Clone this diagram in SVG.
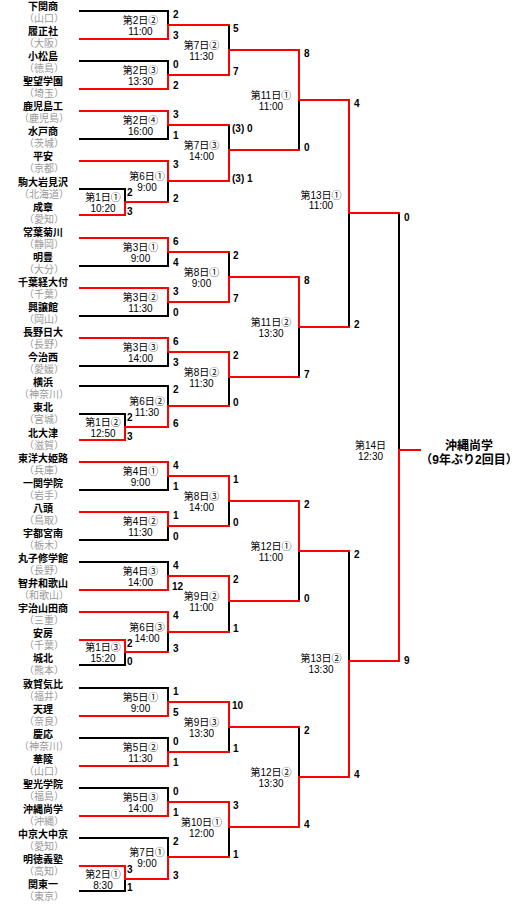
<svg xmlns="http://www.w3.org/2000/svg" width="520" height="905" viewBox="0 0 520 905">
<style>
text{font-family:"Liberation Sans","Noto Sans CJK JP",sans-serif;font-size:10px}
.tn{font-weight:bold;text-anchor:middle;fill:#000}
.pf{text-anchor:middle;fill:#999}
.lb{text-anchor:middle;fill:#000}
.sc{font-weight:bold;fill:#000}
.ch{font-weight:bold;font-size:12px;text-anchor:middle;fill:#000}
.k{stroke:#000;stroke-width:2;fill:none;stroke-linecap:square}
.r{stroke:#f00;stroke-width:2;fill:none;stroke-linecap:square}
</style>
<rect width="520" height="905" fill="#fff"/>
<g id="teams">
<g id="t0"><text class="tn" x="43" y="9.8">下関商</text><text class="pf" x="44" y="21.8">（山口）</text></g>
<g id="t1"><text class="tn" x="43" y="34.9">履正社</text><text class="pf" x="44" y="46.9">（大阪）</text></g>
<g id="t2"><text class="tn" x="43" y="60">小松島</text><text class="pf" x="44" y="72">（徳島）</text></g>
<g id="t3"><text class="tn" x="43" y="85.1">聖望学園</text><text class="pf" x="44" y="97.1">（埼玉）</text></g>
<g id="t4"><text class="tn" x="43" y="110.2">鹿児島工</text><text class="pf" x="44" y="122.2">（鹿児島）</text></g>
<g id="t5"><text class="tn" x="43" y="135.3">水戸商</text><text class="pf" x="44" y="147.3">（茨城）</text></g>
<g id="t6"><text class="tn" x="43" y="160.4">平安</text><text class="pf" x="44" y="172.4">（京都）</text></g>
<g id="t7"><text class="tn" x="43" y="185.5">駒大岩見沢</text><text class="pf" x="44" y="197.5">（北海道）</text></g>
<g id="t8"><text class="tn" x="43" y="210.6">成章</text><text class="pf" x="44" y="222.6">（愛知）</text></g>
<g id="t9"><text class="tn" x="43" y="235.7">常葉菊川</text><text class="pf" x="44" y="247.7">（静岡）</text></g>
<g id="t10"><text class="tn" x="43" y="260.8">明豊</text><text class="pf" x="44" y="272.8">（大分）</text></g>
<g id="t11"><text class="tn" x="43" y="285.9">千葉経大付</text><text class="pf" x="44" y="297.9">（千葉）</text></g>
<g id="t12"><text class="tn" x="43" y="311">興譲館</text><text class="pf" x="44" y="323">（岡山）</text></g>
<g id="t13"><text class="tn" x="43" y="336.1">長野日大</text><text class="pf" x="44" y="348.1">（長野）</text></g>
<g id="t14"><text class="tn" x="43" y="361.2">今治西</text><text class="pf" x="44" y="373.2">（愛媛）</text></g>
<g id="t15"><text class="tn" x="43" y="386.3">横浜</text><text class="pf" x="44" y="398.3">（神奈川）</text></g>
<g id="t16"><text class="tn" x="43" y="411.4">東北</text><text class="pf" x="44" y="423.4">（宮城）</text></g>
<g id="t17"><text class="tn" x="43" y="436.5">北大津</text><text class="pf" x="44" y="448.5">（滋賀）</text></g>
<g id="t18"><text class="tn" x="43" y="461.6">東洋大姫路</text><text class="pf" x="44" y="473.6">（兵庫）</text></g>
<g id="t19"><text class="tn" x="43" y="486.7">一関学院</text><text class="pf" x="44" y="498.7">（岩手）</text></g>
<g id="t20"><text class="tn" x="43" y="511.8">八頭</text><text class="pf" x="44" y="523.8">（鳥取）</text></g>
<g id="t21"><text class="tn" x="43" y="536.9">宇都宮南</text><text class="pf" x="44" y="548.9">（栃木）</text></g>
<g id="t22"><text class="tn" x="43" y="562">丸子修学館</text><text class="pf" x="44" y="574">（長野）</text></g>
<g id="t23"><text class="tn" x="43" y="587.1">智弁和歌山</text><text class="pf" x="44" y="599.1">（和歌山）</text></g>
<g id="t24"><text class="tn" x="43" y="612.2">宇治山田商</text><text class="pf" x="44" y="624.2">（三重）</text></g>
<g id="t25"><text class="tn" x="43" y="637.3">安房</text><text class="pf" x="44" y="649.3">（千葉）</text></g>
<g id="t26"><text class="tn" x="43" y="662.4">城北</text><text class="pf" x="44" y="674.4">（熊本）</text></g>
<g id="t27"><text class="tn" x="43" y="687.5">敦賀気比</text><text class="pf" x="44" y="699.5">（福井）</text></g>
<g id="t28"><text class="tn" x="43" y="712.6">天理</text><text class="pf" x="44" y="724.6">（奈良）</text></g>
<g id="t29"><text class="tn" x="43" y="737.7">慶応</text><text class="pf" x="44" y="749.7">（神奈川）</text></g>
<g id="t30"><text class="tn" x="43" y="762.8">華陵</text><text class="pf" x="44" y="774.8">（山口）</text></g>
<g id="t31"><text class="tn" x="43" y="787.9">聖光学院</text><text class="pf" x="44" y="799.9">（福島）</text></g>
<g id="t32"><text class="tn" x="43" y="813">沖縄尚学</text><text class="pf" x="44" y="825">（沖縄）</text></g>
<g id="t33"><text class="tn" x="43" y="838.1">中京大中京</text><text class="pf" x="44" y="850.1">（愛知）</text></g>
<g id="t34"><text class="tn" x="43" y="863.2">明徳義塾</text><text class="pf" x="44" y="875.2">（高知）</text></g>
<g id="t35"><text class="tn" x="43" y="888.3">関東一</text><text class="pf" x="44" y="900.3">（東京）</text></g>
</g>
<g id="connectors">
<path class="k" d="M80,11H168 M80,61H168 M80,139H168 M80,189H125 M80,266H168 M80,316H168 M80,366H168 M80,386H168 M80,414H125 M80,490H168 M80,540H168 M80,562H168 M80,665H125 M80,688H168 M80,738H168 M80,788H168 M80,838H168 M80,891H125"/>
<path class="k" d="M125,189V202 M125,414V427 M125,665V652 M125,891V879 M168,11V25 M168,61V75 M168,139V125 M168,202V181 M168,266V252 M168,316V302 M168,366V352 M168,386V406 M168,490V476 M168,540V526 M168,562V576 M168,652V632 M168,688V702 M168,738V752 M168,788V802 M168,838V857 M229,25V50 M229,125V150 M229,252V277 M229,406V377 M229,526V501 M229,632V601 M229,752V727 M229,857V827 M299,150V100 M299,377V327 M299,601V551 M299,727V777 M349,327V213 M349,551V661 M399,213V450"/>
<path class="r" d="M80,39H168 M80,89H168 M80,111H168 M80,161H168 M80,215H125 M80,238H168 M80,288H168 M80,338H168 M80,440H125 M80,462H168 M80,512H168 M80,590H168 M80,612H168 M80,640H125 M80,716H168 M80,766H168 M80,816H168 M80,866H125"/>
<path class="r" d="M125,215V202H168 M125,440V427H168 M125,640V652H168 M125,866V879H168"/>
<path class="r" d="M168,39V25H229 M168,89V75H229 M168,111V125H229 M168,161V181H229 M168,238V252H229 M168,288V302H229 M168,338V352H229 M168,427V406H229 M168,462V476H229 M168,512V526H229 M168,590V576H229 M168,612V632H229 M168,716V702H229 M168,766V752H229 M168,816V802H229 M168,879V857H229"/>
<path class="r" d="M229,75V50H299 M229,181V150H299 M229,302V277H299 M229,352V377H299 M229,476V501H299 M229,576V601H299 M229,702V727H299 M229,802V827H299"/>
<path class="r" d="M299,50V100H349 M299,277V327H349 M299,501V551H349 M299,827V777H349"/>
<path class="r" d="M349,100V213H399 M349,777V661H399 M399,661V450H420"/>
</g>
<g id="matches">
<g id="m-1-1"><text class="lb" x="103" y="201">第1日①</text><text class="lb" x="103" y="212">10:20</text><text class="sc" x="127" y="196">2</text><text class="sc" x="127" y="215">3</text></g>
<g id="m-1-2"><text class="lb" x="103" y="426">第1日②</text><text class="lb" x="103" y="437">12:50</text><text class="sc" x="127" y="421">2</text><text class="sc" x="127" y="440">3</text></g>
<g id="m-1-3"><text class="lb" x="103" y="651">第1日③</text><text class="lb" x="103" y="662">15:20</text><text class="sc" x="127" y="647">2</text><text class="sc" x="127" y="665">0</text></g>
<g id="m-2-1"><text class="lb" x="103" y="878">第2日①</text><text class="lb" x="103" y="889">8:30</text><text class="sc" x="127" y="873">3</text><text class="sc" x="127" y="891">1</text></g>
<g id="m-2-2"><text class="lb" x="140.5" y="24">第2日②</text><text class="lb" x="140.5" y="35">11:00</text><text class="sc" x="173" y="18">2</text><text class="sc" x="173" y="38.5">3</text></g>
<g id="m-2-3"><text class="lb" x="140.5" y="74">第2日③</text><text class="lb" x="140.5" y="85">13:30</text><text class="sc" x="173" y="68">0</text><text class="sc" x="173" y="88.5">2</text></g>
<g id="m-2-4"><text class="lb" x="140.5" y="124">第2日④</text><text class="lb" x="140.5" y="135">16:00</text><text class="sc" x="173" y="118">3</text><text class="sc" x="173" y="138.5">1</text></g>
<g id="m-6-1"><text class="lb" x="147" y="180">第6日①</text><text class="lb" x="147" y="191">9:00</text><text class="sc" x="173" y="168">3</text><text class="sc" x="173" y="201.5">2</text></g>
<g id="m-3-1"><text class="lb" x="140.5" y="251">第3日①</text><text class="lb" x="140.5" y="262">9:00</text><text class="sc" x="173" y="245">6</text><text class="sc" x="173" y="265.5">4</text></g>
<g id="m-3-2"><text class="lb" x="140.5" y="301">第3日②</text><text class="lb" x="140.5" y="312">11:30</text><text class="sc" x="173" y="295">3</text><text class="sc" x="173" y="315.5">0</text></g>
<g id="m-3-3"><text class="lb" x="140.5" y="351">第3日③</text><text class="lb" x="140.5" y="362">14:00</text><text class="sc" x="173" y="345">6</text><text class="sc" x="173" y="365.5">3</text></g>
<g id="m-6-2"><text class="lb" x="147" y="405">第6日②</text><text class="lb" x="147" y="416">11:30</text><text class="sc" x="173" y="393">2</text><text class="sc" x="173" y="426.5">6</text></g>
<g id="m-4-1"><text class="lb" x="140.5" y="475">第4日①</text><text class="lb" x="140.5" y="486">9:00</text><text class="sc" x="173" y="469">4</text><text class="sc" x="173" y="489.5">1</text></g>
<g id="m-4-2"><text class="lb" x="140.5" y="525">第4日②</text><text class="lb" x="140.5" y="536">11:30</text><text class="sc" x="173" y="519">1</text><text class="sc" x="173" y="539.5">0</text></g>
<g id="m-4-3"><text class="lb" x="140.5" y="575">第4日③</text><text class="lb" x="140.5" y="586">14:00</text><text class="sc" x="173" y="569">4</text><text class="sc" x="172" y="589.5">12</text></g>
<g id="m-6-3"><text class="lb" x="147" y="631">第6日③</text><text class="lb" x="147" y="642">14:00</text><text class="sc" x="173" y="619">4</text><text class="sc" x="173" y="651.5">3</text></g>
<g id="m-5-1"><text class="lb" x="140.5" y="701">第5日①</text><text class="lb" x="140.5" y="712">9:00</text><text class="sc" x="173" y="695">1</text><text class="sc" x="173" y="715.5">5</text></g>
<g id="m-5-2"><text class="lb" x="140.5" y="751">第5日②</text><text class="lb" x="140.5" y="762">11:30</text><text class="sc" x="173" y="745">0</text><text class="sc" x="173" y="765.5">1</text></g>
<g id="m-5-3"><text class="lb" x="140.5" y="801">第5日③</text><text class="lb" x="140.5" y="812">14:00</text><text class="sc" x="173" y="795">0</text><text class="sc" x="173" y="815.5">1</text></g>
<g id="m-7-1"><text class="lb" x="147" y="856">第7日①</text><text class="lb" x="147" y="867">9:00</text><text class="sc" x="173" y="845">2</text><text class="sc" x="173" y="878.5">3</text></g>
<g id="m-7-2"><text class="lb" x="201.5" y="49">第7日②</text><text class="lb" x="201.5" y="60">11:30</text><text class="sc" x="233" y="32">5</text><text class="sc" x="233" y="75">7</text></g>
<g id="m-7-3"><text class="lb" x="201.5" y="149">第7日③</text><text class="lb" x="201.5" y="160">14:00</text><text class="sc" x="232" y="132">(3) 0</text><text class="sc" x="232" y="181.5">(3) 1</text></g>
<g id="m-8-1"><text class="lb" x="201.5" y="276">第8日①</text><text class="lb" x="201.5" y="287">9:00</text><text class="sc" x="233" y="259">2</text><text class="sc" x="233" y="302">7</text></g>
<g id="m-8-2"><text class="lb" x="201.5" y="376">第8日②</text><text class="lb" x="201.5" y="387">11:30</text><text class="sc" x="233" y="359">2</text><text class="sc" x="233" y="406">0</text></g>
<g id="m-8-3"><text class="lb" x="201.5" y="500">第8日③</text><text class="lb" x="201.5" y="511">14:00</text><text class="sc" x="233" y="483">1</text><text class="sc" x="233" y="526">0</text></g>
<g id="m-9-2"><text class="lb" x="201.5" y="600">第9日②</text><text class="lb" x="201.5" y="611">11:00</text><text class="sc" x="233" y="583">2</text><text class="sc" x="233" y="632">1</text></g>
<g id="m-9-3"><text class="lb" x="201.5" y="726">第9日③</text><text class="lb" x="201.5" y="737">13:30</text><text class="sc" x="232" y="709">10</text><text class="sc" x="233" y="752">1</text></g>
<g id="m-10-1"><text class="lb" x="201.5" y="826">第10日①</text><text class="lb" x="201.5" y="837">12:00</text><text class="sc" x="233" y="809">3</text><text class="sc" x="233" y="857.5">1</text></g>
<g id="m-11-1"><text class="lb" x="271" y="98.5">第11日①</text><text class="lb" x="271" y="110">11:00</text><text class="sc" x="304" y="57">8</text><text class="sc" x="304" y="151">0</text></g>
<g id="m-11-2"><text class="lb" x="271" y="325.5">第11日②</text><text class="lb" x="271" y="336.5">13:30</text><text class="sc" x="304" y="284">8</text><text class="sc" x="304" y="378">7</text></g>
<g id="m-12-1"><text class="lb" x="271" y="550">第12日①</text><text class="lb" x="271" y="561">11:00</text><text class="sc" x="304" y="508">2</text><text class="sc" x="304" y="602">0</text></g>
<g id="m-12-2"><text class="lb" x="271" y="776">第12日②</text><text class="lb" x="271" y="787">13:30</text><text class="sc" x="304" y="734">2</text><text class="sc" x="304" y="828">4</text></g>
<g id="m-13-1"><text class="lb" x="321" y="198.5">第13日①</text><text class="lb" x="321" y="209">11:00</text><text class="sc" x="354" y="107">4</text><text class="sc" x="354" y="328">2</text></g>
<g id="m-13-2"><text class="lb" x="321" y="662">第13日②</text><text class="lb" x="321" y="673">13:30</text><text class="sc" x="354" y="558">2</text><text class="sc" x="354" y="778">4</text></g>
<g id="m-14"><text class="lb" x="370.5" y="449">第14日</text><text class="lb" x="370.5" y="460">12:30</text><text class="sc" x="404" y="221">0</text><text class="sc" x="404" y="664">9</text></g>
</g>
<g id="champion"><text class="ch" x="469" y="449.5">沖縄尚学</text><text class="ch" x="469" y="464">（9年ぶり2回目）</text></g>
</svg>
